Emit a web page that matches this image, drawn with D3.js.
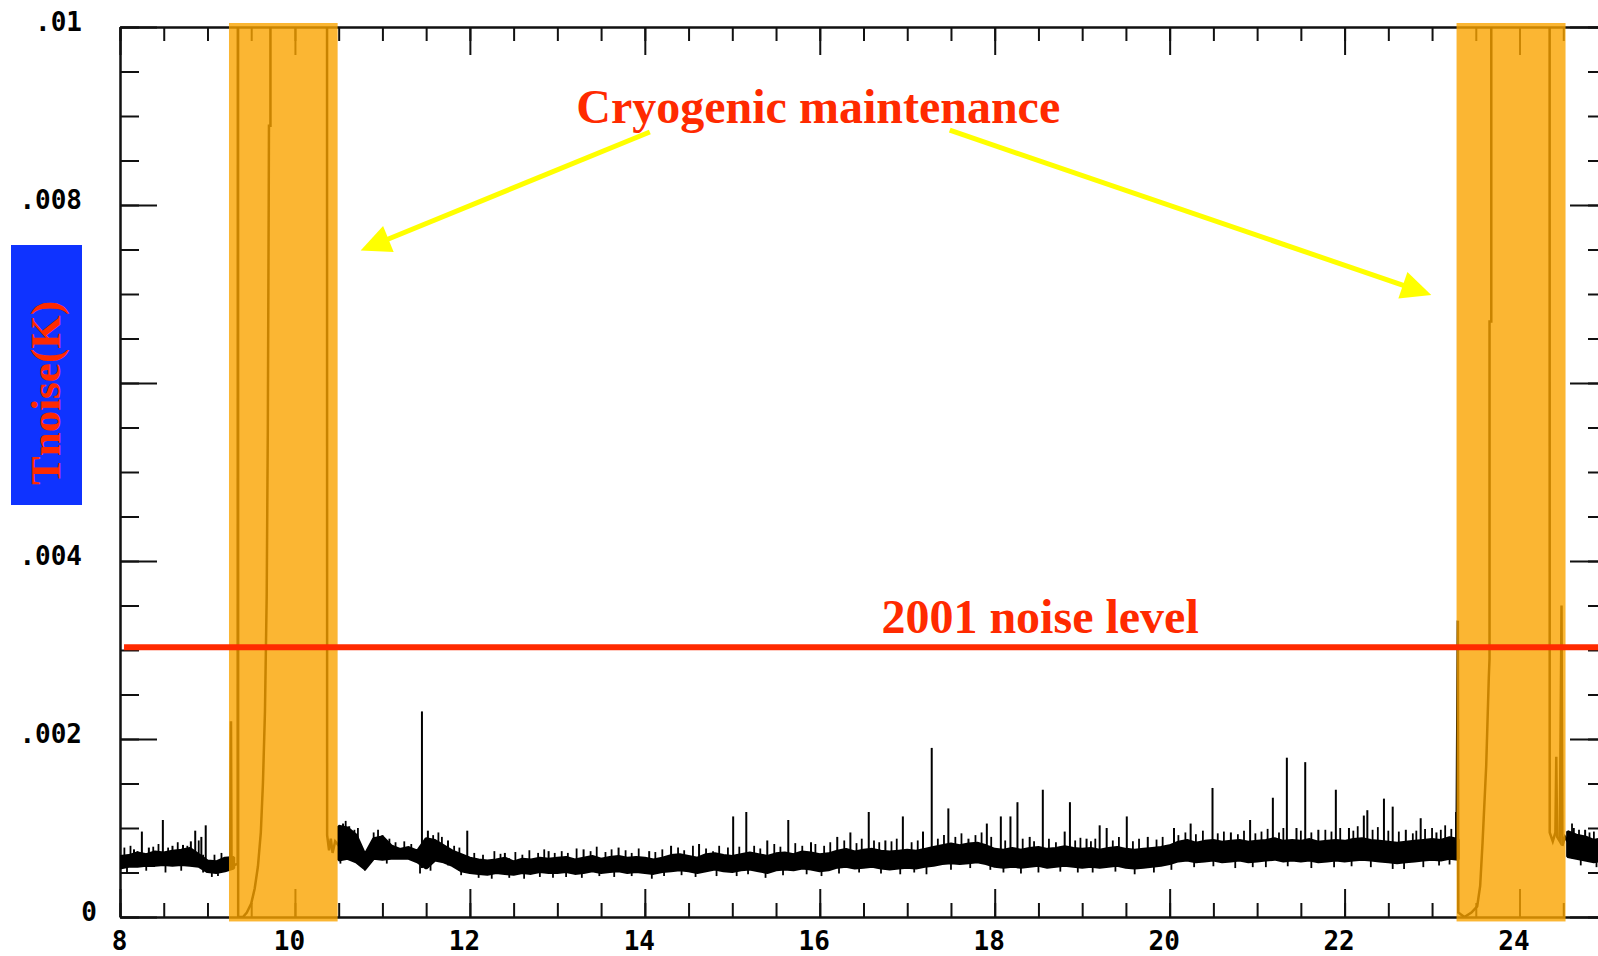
<!DOCTYPE html>
<html lang="en">
<head>
<meta charset="UTF-8">
<title>Tnoise(K)</title>
<script src="https://d3js.org/d3.v7.min.js"></script>
<style>
    html, body {
        margin:0;
        padding:0;
        background:#fff;
    }
    svg {
        display:block;
    }
</style>
</head>
<body>
<div id="chart"></div>
<script>
    // axis ticks
    const xTicksMajor = [8, 10, 12, 14, 16, 18, 20, 22, 24];
    const yTicksMajor = [0, 0.002, 0.004, 0.006, 0.008, 0.01];
    const yTickLabels = ["0", ".002", ".004", ".006", ".008", ".01"];

    // cryogenic maintenance periods (hours)
    const maintStart = [9.246, 23.28];
    const maintEnd = [10.488, 24.526];

    // 2001 noise level (K)
    const noiseLevel2001 = 0.00303;

    // quiet noise, low / high envelope in mK, one sample every 0.1 h
    const sampleStep = 0.1;
    const quietStart = [8.0, 10.5, 24.55];
    const quietLow = [
        [0.55,0.57,0.57,0.58,0.58,0.59,0.58,0.59,0.58,0.57,0.51,0.50,0.52,0.55],
        [0.64,0.66,0.62,0.54,0.66,
         0.65,0.66,0.66,0.66,0.62,0.55,0.64,0.62,0.58,0.52,
         0.50,0.49,0.48,0.50,0.49,0.48,0.50,0.49,0.51,0.50,
         0.50,0.51,0.49,0.50,0.52,0.50,0.51,0.52,0.50,0.51,
         0.50,0.49,0.51,0.52,0.53,0.52,0.50,0.52,0.54,0.52,
         0.51,0.53,0.54,0.52,0.50,0.53,0.54,0.53,0.55,0.54,
         0.52,0.53,0.56,0.57,0.55,0.56,0.57,0.55,0.54,0.55,
         0.56,0.55,0.57,0.58,0.60,0.61,0.60,0.61,0.62,0.60,
         0.57,0.56,0.57,0.56,0.57,0.58,0.56,0.57,0.58,0.57,
         0.56,0.57,0.56,0.57,0.58,0.56,0.55,0.56,0.57,0.58,
         0.60,0.63,0.64,0.62,0.63,0.64,0.62,0.63,0.64,0.62,
         0.63,0.64,0.65,0.63,0.64,0.63,0.64,0.62,0.63,0.64,
         0.63,0.64,0.65,0.64,0.63,0.62,0.61,0.62,0.63,0.64,
         0.65,0.64,0.66,0.65],
        [0.68,0.66,0.64,0.62,0.64]
    ];
    const quietHigh = [
        [0.68,0.69,0.72,0.70,0.73,0.72,0.74,0.75,0.77,0.70,0.63,0.62,0.66,0.67],
        [1.02,1.00,0.92,0.70,0.88,
         0.90,0.80,0.76,0.78,0.74,0.88,0.86,0.80,0.74,0.70,
         0.66,0.64,0.63,0.64,0.66,0.62,0.65,0.64,0.66,0.65,
         0.66,0.67,0.64,0.66,0.68,0.65,0.67,0.68,0.66,0.67,
         0.66,0.64,0.66,0.69,0.70,0.68,0.66,0.70,0.71,0.69,
         0.68,0.70,0.72,0.70,0.68,0.71,0.72,0.70,0.73,0.72,
         0.70,0.71,0.74,0.76,0.73,0.75,0.76,0.74,0.73,0.74,
         0.75,0.74,0.76,0.78,0.80,0.82,0.80,0.82,0.83,0.80,
         0.76,0.75,0.77,0.75,0.77,0.78,0.76,0.77,0.79,0.77,
         0.76,0.77,0.75,0.77,0.78,0.76,0.75,0.76,0.77,0.78,
         0.80,0.84,0.86,0.83,0.85,0.86,0.84,0.85,0.86,0.84,
         0.85,0.86,0.88,0.85,0.86,0.85,0.87,0.84,0.85,0.86,
         0.85,0.87,0.88,0.86,0.85,0.84,0.83,0.84,0.85,0.86,
         0.87,0.86,0.89,0.87],
        [0.96,0.92,0.90,0.86,0.88]
    ];

    // tall spikes (hour, peak in mK)
    const spikeHours = [8.16,8.25,8.33,8.49,8.60,8.72,8.81,8.86,8.93,8.98,
        10.55,10.62,11.00,11.452,11.52,11.75,11.97,12.40,12.90,13.30,13.70,
        14.05,14.30,14.62,15.01,15.16,15.40,15.64,15.90,16.20,16.35,16.56,
        16.75,16.95,17.18,17.28,17.47,17.70,17.91,18.07,18.18,18.26,18.40,
        18.55,18.80,18.86,19.05,19.20,19.28,19.51,19.75,20.05,20.24,20.49,
        20.70,20.92,21.18,21.34,21.45,21.55,21.70,21.90,22.05,22.22,22.26,
        22.45,22.55,22.70,22.87,23.05,23.275,24.62,24.75];
    const spikePeaks = [0.76,0.96,0.78,1.09,0.80,0.81,0.85,0.97,0.90,1.03,
        1.05,1.02,0.92,2.31,0.97,0.86,0.97,0.72,0.74,0.76,0.78,
        0.74,0.80,0.82,1.13,1.18,0.86,1.09,0.84,0.90,0.95,1.18,
        0.86,1.13,0.96,1.90,1.22,0.88,1.05,1.13,1.13,1.29,0.90,
        1.43,0.96,1.29,0.88,1.03,1.00,1.13,0.90,1.00,1.05,1.45,
        0.95,1.09,1.34,1.79,1.00,1.74,0.98,1.43,1.00,1.14,1.20,
        1.33,1.24,0.98,1.11,0.95,1.18,1.00,0.98];

    // small ripples above the envelope (hour, mK)
    const rippleHours = [8.05,8.12,8.20,8.38,8.44,8.55,8.66,8.77,8.90,9.08,9.16,
        10.58,10.68,10.72,10.90,10.95,11.08,11.15,11.25,11.33,11.58,11.64,11.68,11.82,11.88,
        12.05,12.15,12.28,12.35,12.52,12.60,12.68,12.78,12.85,12.97,
        13.05,13.12,13.22,13.38,13.45,13.55,13.62,13.78,13.85,13.93,
        14.12,14.20,14.38,14.45,14.55,14.70,14.78,14.85,14.95,
        15.08,15.25,15.32,15.48,15.55,15.72,15.80,15.95,
        16.05,16.12,16.28,16.42,16.48,16.62,16.68,16.82,16.88,
        17.05,17.12,17.35,17.42,17.55,17.62,17.78,17.85,17.96,
        18.12,18.32,18.45,18.62,18.70,18.92,18.98,
        19.10,19.15,19.35,19.42,19.58,19.65,19.85,19.92,
        20.10,20.18,20.30,20.38,20.55,20.62,20.78,20.85,20.98,
        21.05,21.12,21.25,21.30,21.50,21.62,21.78,21.85,21.95,
        22.10,22.15,22.32,22.38,22.50,22.62,22.78,22.82,22.92,
        23.00,23.10,23.15,23.22,24.60,24.68,24.80,24.85];
    const ripplePeaks = [0.78,0.80,0.74,0.79,0.82,0.78,0.84,0.80,0.86,0.70,0.72,
        1.08,0.98,1.00,0.95,0.98,0.88,0.84,0.85,0.82,0.92,0.95,0.90,0.80,0.78,
        0.72,0.70,0.74,0.71,0.73,0.70,0.75,0.72,0.76,0.72,
        0.74,0.72,0.77,0.74,0.79,0.73,0.76,0.75,0.72,0.77,
        0.73,0.76,0.78,0.75,0.80,0.77,0.74,0.80,0.78,
        0.79,0.80,0.77,0.82,0.79,0.83,0.80,0.82,
        0.80,0.84,0.86,0.83,0.88,0.86,0.84,0.85,0.88,
        0.84,0.86,0.88,0.92,0.90,0.94,0.92,0.95,0.90,
        0.86,0.88,0.85,0.88,0.84,0.86,0.89,
        0.85,0.88,0.86,0.90,0.85,0.88,0.87,0.90,
        0.92,0.95,0.93,0.97,0.94,0.96,0.93,0.97,0.94,
        0.96,0.99,0.95,1.00,0.97,0.95,0.98,0.96,1.00,
        0.97,1.02,0.98,1.01,0.97,0.96,0.94,0.97,0.99,
        1.00,0.98,1.03,0.99,1.05,0.98,0.95,0.96];

    // small dips below the envelope (hour, mK)
    const dipHours = [8.08,8.30,8.52,8.70,8.95,9.05,9.12,
        10.52,10.80,11.05,11.43,11.55,11.90,
        12.10,12.25,12.45,12.62,12.80,12.95,
        13.10,13.28,13.48,13.65,13.85,
        14.08,14.22,14.42,14.58,14.82,
        15.05,15.18,15.38,15.58,15.85,
        16.02,16.22,16.45,16.70,16.92,
        17.08,17.22,17.50,17.72,17.95,
        18.10,18.30,18.50,18.75,18.95,
        19.12,19.38,19.60,19.82,
        20.02,20.28,20.50,20.75,20.95,
        21.10,21.35,21.62,21.88,
        22.08,22.30,22.55,22.68,22.90,
        23.08,23.20,24.70,24.88];
    const dipValues = [0.50,0.52,0.50,0.52,0.50,0.45,0.46,
        0.60,0.52,0.60,0.49,0.52,0.47,
        0.44,0.43,0.44,0.43,0.45,0.44,
        0.45,0.44,0.46,0.45,0.46,
        0.43,0.46,0.47,0.45,0.46,
        0.46,0.48,0.44,0.47,0.48,
        0.46,0.49,0.50,0.49,0.48,
        0.50,0.48,0.53,0.55,0.53,
        0.50,0.49,0.50,0.51,0.50,
        0.50,0.51,0.48,0.50,
        0.53,0.56,0.57,0.55,0.56,
        0.56,0.57,0.55,0.56,
        0.57,0.56,0.54,0.54,0.56,
        0.58,0.59,0.58,0.56];

    // readings during maintenance (hour, mK), above .01 K leaves the plot
    const maint1Hours = [9.26,9.269,9.275,9.30,9.345,9.349,9.351,9.406,9.45,9.50,9.54,9.577,
        9.61,9.634,9.657,9.677,9.69,9.70,9.703,9.72,9.72,10.366,10.368,10.39,10.41,10.43,10.46,10.50];
    const maint1Values = [0.60,2.20,0.62,0.58,0.60,20,0.0,0.0,0.05,0.15,0.32,0.57,
        0.95,1.50,2.30,3.60,5.50,8.00,8.89,8.89,20,20,0.92,0.75,0.88,0.72,0.85,0.80];
    const maint2Hours = [23.28,23.295,23.30,23.37,23.45,23.516,23.55,23.577,23.619,23.649,
        23.657,23.657,23.677,23.677,24.343,24.345,24.38,24.41,24.42,24.43,24.46,24.48,24.49,24.52,24.55];
    const maint2Values = [0.72,3.33,0.05,0.0,0.05,0.12,0.35,0.83,1.70,2.70,
        2.90,6.69,6.69,20,20,0.95,0.85,0.95,1.80,0.90,0.85,3.50,0.80,0.90,0.85];

    // annotation anchors (hour, mK)
    const arrowFrom = [[14.057, 8.82], [17.486, 8.84]];
    const arrowTo = [[10.751, 7.49], [22.991, 6.99]];

    const W = 1598, H = 956;
    const red = "#ff2a00";
    const mK = v => v / 1000;

    const x = d3.scaleLinear().domain([8, 25]).range([120, 1607]);
    const y = d3.scaleLinear().domain([0, 0.01]).range([917, 27]);

    const svg = d3.select("#chart").append("svg")
        .attr("width", W)
        .attr("height", H)
        .style("background", "#fff");

    svg.append("defs").append("clipPath").attr("id", "plot")
        .append("rect")
        .attr("x", x(8)).attr("y", y(0.01))
        .attr("width", x(25) - x(8)).attr("height", y(0) - y(0.01));

    function styleAxis(g) {
        g.attr("font-family", '"DejaVu Sans Mono", monospace')
            .attr("font-size", 26)
            .attr("font-weight", "bold");
        g.selectAll("path, line").attr("stroke", "#111").attr("stroke-width", 2);
        g.selectAll("text").attr("fill", "#000");
    }

    // frame and ticks
    const xMinor = x.ticks(34), yMinor = y.ticks(20);
    svg.append("g").attr("transform", `translate(0,${y(0)})`)
        .call(d3.axisBottom(x).tickValues(xMinor).tickSizeInner(-14).tickSizeOuter(0).tickFormat(""))
        .call(styleAxis);
    svg.append("g").attr("transform", `translate(0,${y(0)})`)
        .call(d3.axisBottom(x).tickValues(xTicksMajor).tickSizeInner(-28).tickSizeOuter(0)
            .tickPadding(15).tickFormat(d3.format("d")))
        .call(styleAxis)
        .selectAll("text").attr("dx", d => d >= 10 ? -6 : -1);
    svg.append("g").attr("transform", `translate(0,${y(0.01)})`)
        .call(d3.axisTop(x).tickValues(xMinor).tickSizeInner(-14).tickSizeOuter(0).tickFormat(""))
        .call(styleAxis);
    svg.append("g").attr("transform", `translate(0,${y(0.01)})`)
        .call(d3.axisTop(x).tickValues(xTicksMajor).tickSizeInner(-28).tickSizeOuter(0).tickFormat(""))
        .call(styleAxis);

    svg.append("g").attr("transform", `translate(${x(8)},0)`)
        .call(d3.axisLeft(y).tickValues(yMinor).tickSizeInner(-19).tickSizeOuter(0).tickFormat(""))
        .call(styleAxis);
    svg.append("g").attr("transform", `translate(${x(8)},0)`)
        .call(d3.axisLeft(y).tickValues(yTicksMajor).tickSizeInner(-37).tickSizeOuter(0)
            .tickPadding(38).tickFormat((d, i) => yTickLabels[i]))
        .call(styleAxis)
        .selectAll("text")
        .attr("dy", "0.13em")
        .attr("x", d => d === 0 ? -23 : -38);
    svg.append("g").attr("transform", `translate(${x(25)},0)`)
        .call(d3.axisRight(y).tickValues(yMinor).tickSizeInner(-19).tickSizeOuter(0).tickFormat(""))
        .call(styleAxis);
    svg.append("g").attr("transform", `translate(${x(25)},0)`)
        .call(d3.axisRight(y).tickValues(yTicksMajor).tickSizeInner(-37).tickSizeOuter(0).tickFormat(""))
        .call(styleAxis);

    // data
    const plot = svg.append("g").attr("clip-path", "url(#plot)");

    const segments = quietStart.map((h0, s) =>
        quietLow[s].map((lo, i) => ({h: h0 + i * sampleStep, lo: lo, hi: quietHigh[s][i]})));

    const area = d3.area()
        .x(d => x(d.h))
        .y0(d => y(mK(d.lo)))
        .y1(d => y(mK(d.hi)));

    plot.selectAll("path.quiet")
        .data(segments)
        .join("path")
        .attr("class", "quiet")
        .attr("d", area)
        .attr("fill", "#000")
        .attr("stroke", "#000")
        .attr("stroke-width", 3)
        .attr("stroke-linejoin", "bevel");

    // envelope at an hour, taken from the nearest sample
    function envAt(h) {
        for (const seg of segments) {
            if (h >= seg[0].h - 0.06 && h <= seg[seg.length - 1].h + 0.06) {
                const i = Math.max(0, Math.min(seg.length - 1, Math.round((h - seg[0].h) / sampleStep)));
                return seg[i];
            }
        }
        return {lo: 0.6, hi: 0.8};
    }

    function drawTicks(hours, values, from, width) {
        plot.append("g")
            .selectAll("line")
            .data(hours.map((h, i) => ({h: h, v: values[i]})))
            .join("line")
            .attr("x1", d => x(d.h)).attr("x2", d => x(d.h))
            .attr("y1", d => y(mK(d.v)))
            .attr("y2", d => y(mK(from(envAt(d.h)))))
            .attr("stroke", "#000")
            .attr("stroke-width", width);
    }
    drawTicks(rippleHours, ripplePeaks, e => e.lo, 1.8);
    drawTicks(dipHours, dipValues, e => e.hi, 1.8);
    drawTicks(spikeHours, spikePeaks, e => e.lo, 2);

    const line = d3.line().x(d => x(d[0])).y(d => y(mK(d[1])));
    [[maint1Hours, maint1Values], [maint2Hours, maint2Values]].forEach(([hs, vs]) => {
        plot.append("path")
            .datum(hs.map((h, i) => [h, vs[i]]))
            .attr("d", line)
            .attr("fill", "none")
            .attr("stroke", "#000")
            .attr("stroke-width", 2.5);
    });

    // maintenance bands
    svg.selectAll("rect.maint")
        .data(maintStart.map((s, i) => [s, maintEnd[i]]))
        .join("rect")
        .attr("class", "maint")
        .attr("x", d => x(d[0]))
        .attr("width", d => x(d[1]) - x(d[0]))
        .attr("y", y(0.010045))
        .attr("height", y(-0.00005) - y(0.010045))
        .attr("fill", "#faa400")
        .attr("fill-opacity", 0.8);

    // 2001 noise level
    svg.append("line")
        .attr("x1", x(8.046)).attr("x2", x(25))
        .attr("y1", y(noiseLevel2001)).attr("y2", y(noiseLevel2001))
        .attr("stroke", red)
        .attr("stroke-width", 6);

    svg.append("text")
        .attr("x", x(16.705)).attr("y", y(mK(3.19)))
        .attr("font-family", '"Liberation Serif", "Times New Roman", serif')
        .attr("font-weight", "bold")
        .attr("font-size", 48)
        .attr("fill", red)
        .text("2001 noise level");

    svg.append("text")
        .attr("x", x(15.983)).attr("y", y(mK(8.92)))
        .attr("text-anchor", "middle")
        .attr("font-family", '"Liberation Serif", "Times New Roman", serif')
        .attr("font-weight", "bold")
        .attr("font-size", 48)
        .attr("fill", red)
        .text("Cryogenic maintenance");

    // yellow arrows
    arrowFrom.forEach((f, i) => {
        const x0 = x(f[0]), y0 = y(mK(f[1]));
        const x1 = x(arrowTo[i][0]), y1 = y(mK(arrowTo[i][1]));
        const len = Math.hypot(x1 - x0, y1 - y0);
        const ux = (x1 - x0) / len, uy = (y1 - y0) / len;
        const headLen = 30, headHalf = 14;
        const bx = x1 - ux * headLen, by = y1 - uy * headLen;
        svg.append("line")
            .attr("x1", x0).attr("y1", y0)
            .attr("x2", bx + ux * 2).attr("y2", by + uy * 2)
            .attr("stroke", "#ffff00")
            .attr("stroke-width", 5);
        svg.append("polygon")
            .attr("points", [
                [x1, y1],
                [bx - uy * headHalf, by + ux * headHalf],
                [bx + uy * headHalf, by - ux * headHalf]
            ].map(p => p.join(",")).join(" "))
            .attr("fill", "#ffff00");
    });

    // y label on blue box
    svg.append("rect")
        .attr("x", 11).attr("y", 245)
        .attr("width", 71).attr("height", 260)
        .attr("fill", "#0f33ff");
    svg.append("text")
        .attr("transform", "translate(60,393) rotate(-90)")
        .attr("text-anchor", "middle")
        .attr("font-family", '"Liberation Serif", "Times New Roman", serif')
        .attr("font-weight", "bold")
        .attr("font-size", 43)
        .attr("fill", red)
        .text("Tnoise(K)");
</script>
</body>
</html>
